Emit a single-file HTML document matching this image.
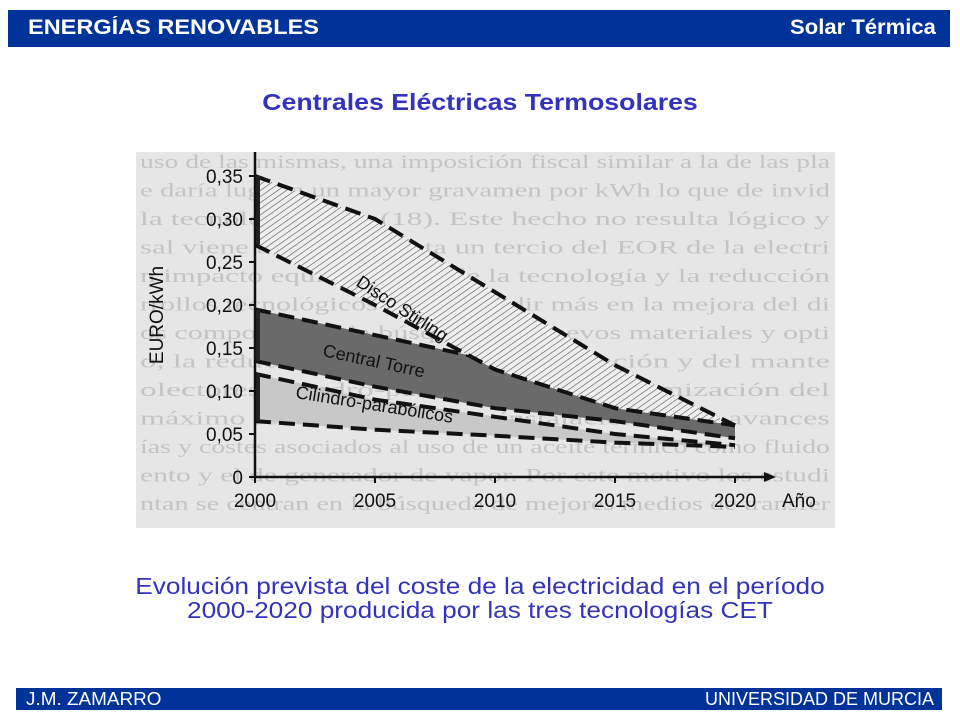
<!DOCTYPE html>
<html><head><meta charset="utf-8">
<style>
body{margin:0;width:960px;height:720px;background:#fff;position:relative;overflow:hidden;font-family:"Liberation Sans",sans-serif}
.bar{position:absolute;background:#003399;color:#fff}
.sx{display:inline-block;transform-origin:left center}
</style></head><body>
<div class="bar" style="left:8px;top:10px;width:942px;height:37px">
 <span style="position:absolute;left:20px;top:6px;font-size:21px;font-weight:bold;transform:scaleX(1.12);transform-origin:left">ENERGÍAS RENOVABLES</span>
 <span style="position:absolute;right:14px;top:6px;font-size:21px;font-weight:bold;transform:scaleX(1.05);transform-origin:right">Solar Térmica</span>
</div>
<div style="position:absolute;left:0;width:960px;top:89px;text-align:center;color:#3333bb;font-size:23px;font-weight:bold;transform:scaleX(1.16)">Centrales Eléctricas Termosolares</div>

<svg style="position:absolute;left:0;top:0" width="960" height="720">
 <defs>
  <pattern id="hatch" patternUnits="userSpaceOnUse" width="5" height="5" patternTransform="rotate(55)">
   <rect width="5" height="5" fill="#eee"/><line x1="0" y1="0" x2="0" y2="5" stroke="#555" stroke-width="1.2"/>
  </pattern>
 </defs>
 <rect x="136" y="152" width="699" height="376" fill="#e6e6e6"/>
 <g id="bgtext" fill="#c4c4c4" font-family="Liberation Serif, serif" font-size="19"></g>
 <g id="marks"></g>
 <g id="axes"></g>
</svg>

<div style="position:absolute;left:0;width:960px;top:574px;text-align:center;color:#3333bb;font-size:23px;line-height:24px;transform:scaleX(1.14)">Evolución prevista del coste de la electricidad en el período<br>2000-2020 producida por las tres tecnologías CET</div>
<div class="bar" style="left:16px;top:688px;width:926px;height:22px">
 <span style="position:absolute;left:10px;top:1px;font-size:18px;transform:scaleX(1.05);transform-origin:left">J.M. ZAMARRO</span>
 <span style="position:absolute;right:8px;top:1px;font-size:18px">UNIVERSIDAD DE MURCIA</span>
</div>
<script>
const years=[2000,2005,2010,2015,2020];
const discoUpper=[0.35,0.30,0.215,0.13,0.06];
const discoLower=[0.27,0.20,0.125,0.08,0.06];
const torreUpper=[0.195,0.165,0.135,0.09,0.06];
const torreLower=[0.135,0.105,0.08,0.065,0.045];
const ciliUpper=[0.12,0.09,0.07,0.05,0.037];
const ciliLower=[0.065,0.055,0.048,0.04,0.035];
const yTicks=[0,0.05,0.10,0.15,0.20,0.25,0.30,0.35];
const yTickLabels=["0","0,05","0,10","0,15","0,20","0,25","0,30","0,35"];
const xTickLabels=["2000","2005","2010","2015","2020"];
const NS='http://www.w3.org/2000/svg';
const X=y=>255+(y-2000)*24;
const Y=v=>477-v*860;
function mk(t,a,p){const e=document.createElementNS(NS,t);for(const k in a)e.setAttribute(k,a[k]);p.appendChild(e);return e;}
const bg=document.getElementById('bgtext');
const lines=["uso de las mismas, una imposición fiscal similar a la de las pla","e daría lugar a un mayor gravamen por kWh lo que de invid","la tecnología solar (18). Este hecho no resulta lógico y","sal viene a suponer hasta un tercio del EOR de la electri","n impacto equivalente al de la tecnología y la reducción","rrollos tecnológicos deben incidir más en la mejora del di","os componentes, la búsqueda de nuevos materiales y opti","o, la reducción de costes de la operación y del mante","olectores cilindro-parabólicos y la optimización del","máximo rendimiento en las instalaciones; los avances","ías y costes asociados al uso de un aceite térmico como fluido","ento y el de generador de vapor. Por este motivo los estudi","ntan se centran en la búsqueda de mejores medios de transfer"];
lines.forEach((s,i)=>{const t=mk('text',{x:140,y:168+i*28.5,textLength:690,lengthAdjust:'spacingAndGlyphs'},bg);t.textContent=s;});
const g=document.getElementById('marks');
function band(up,lo,fill,name){
 let d='M'+years.map((y,i)=>X(y)+','+Y(up[i])).join(' L');
 d+=' L'+years.slice().reverse().map((y,i)=>X(y)+','+Y(lo[lo.length-1-i])).join(' L')+'Z';
 const p=mk('path',{d:d,fill:fill},g);
 
 
 [up,lo].forEach((arr,k)=>{
  const l=mk('polyline',{points:years.map((y,i)=>X(y)+','+Y(arr[i])).join(' '),fill:'none',stroke:'#111','stroke-width':4,'stroke-dasharray':'16 8'},g);
  
  
 });
 const e=mk('line',{x1:X(2000)+3,y1:Y(up[0]),x2:X(2000)+3,y2:Y(lo[0]),stroke:'#222','stroke-width':4},g);
 
 
}
band(ciliUpper,ciliLower,'#c8c8c8','cilindro');
band(torreUpper,torreLower,'#6a6a6a','torre');
band(discoUpper,discoLower,'url(#hatch)','disco');
function lab(txt,x,y,r,name){const t=mk('text',{x:x,y:y,transform:`rotate(${r} ${x} ${y})`,'font-size':18,fill:'#111','font-family':'Liberation Sans, sans-serif'},g);t.textContent=txt;}
lab('Disco   Stirling',355,285,33,'disco-label');
lab('Central Torre',322,356,12,'torre-label');
lab('Cilindro-parabólicos',295,398,9,'cilindro-label');
const ax=document.getElementById('axes');
const ya=mk('line',{x1:255,y1:152,x2:255,y2:477,stroke:'#111','stroke-width':2.5},ax);

const xa=mk('line',{x1:255,y1:477,x2:766,y2:477,stroke:'#111','stroke-width':2.5},ax);

const ar=mk('path',{d:'M776,477 L764,472 L764,482Z',fill:'#111'},ax);

yTicks.forEach((v,i)=>{
 mk('line',{x1:249,y1:Y(v),x2:255,y2:Y(v),stroke:'#111','stroke-width':2},ax);
 const t=mk('text',{x:243,y:Y(v)+7,'text-anchor':'end','font-size':19,fill:'#111'},ax);
 t.textContent=yTickLabels[i];
 
 
});
years.forEach((y,i)=>{
 mk('line',{x1:X(y),y1:477,x2:X(y),y2:483,stroke:'#111','stroke-width':2},ax);
 const t=mk('text',{x:X(y),y:507,'text-anchor':'middle','font-size':19,fill:'#111'},ax);
 t.textContent=xTickLabels[i];
 
 
});
const yt=mk('text',{x:163,y:315,transform:'rotate(-90 163 315)','text-anchor':'middle','font-size':19,fill:'#111'},ax);
yt.textContent='EURO/kWh';
const xt=mk('text',{x:782,y:507,'font-size':19,fill:'#111'},ax);
xt.textContent='Año';
</script>
</body></html>
